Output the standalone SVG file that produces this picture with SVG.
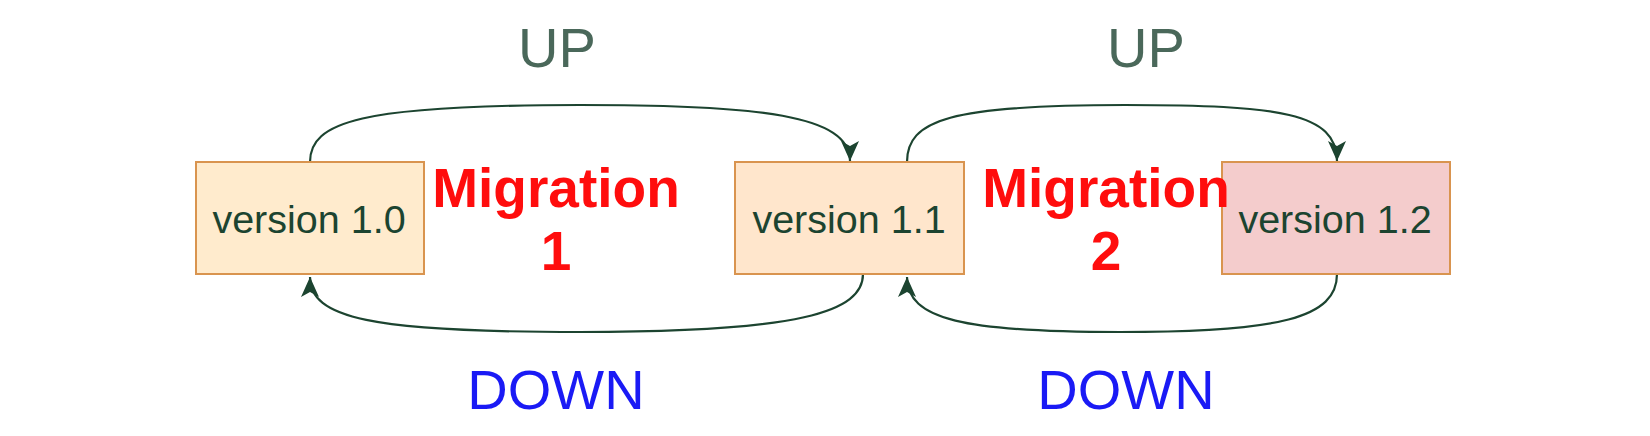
<svg xmlns="http://www.w3.org/2000/svg" width="1650" height="436" viewBox="0 0 1650 436">
<style>
.box{stroke:#d9944f;stroke-width:2}
.ver{font-family:"Liberation Sans",Arial,sans-serif;font-size:39.5px;fill:#1c4430;text-anchor:middle}
.mig{font-family:"Liberation Sans",Arial,sans-serif;font-size:55px;font-weight:bold;fill:#ff0d0d;text-anchor:middle}
.up{font-family:"Liberation Sans",Arial,sans-serif;font-size:56px;fill:#4a685a;text-anchor:middle}
.down{font-family:"Liberation Sans",Arial,sans-serif;font-size:56px;fill:#1a1af5;text-anchor:middle}
.conn{fill:none;stroke:#1c4430;stroke-width:2.2;marker-end:url(#arr)}
</style>
<defs>
<marker id="arr" markerUnits="userSpaceOnUse" markerWidth="22" markerHeight="20" viewBox="0 -10 22 20" refX="20" refY="0" orient="auto">
<path d="M0,-9 L20,0 L0,9 L5,0 Z" fill="#1c4430"/>
</marker>
</defs>
<rect width="1650" height="436" fill="#ffffff"/>
<g id="connectors">
<path class="conn" d="M310,162 C310,122 360,105 580,105 C760,105 850,115 850,161"/>
<path class="conn" d="M863,274 C863,312 800,332 580,332 C370,332 310,318 310,277"/>
<path class="conn" d="M907,162 C907,120 950,105 1125,105 C1280,105 1337,113 1337,161"/>
<path class="conn" d="M1337,274 C1337,318 1280,332 1120,332 C965,332 907,320 907,277"/>
</g>
<g id="v10">
<rect class="box" x="196" y="162" width="228" height="112" fill="#ffebcd"/>
<text class="ver" x="309" y="233">version 1.0</text>
</g>
<g id="v11">
<rect class="box" x="735" y="162" width="229" height="112" fill="#ffe6cc"/>
<text class="ver" x="849" y="233">version 1.1</text>
</g>
<g id="v12">
<rect class="box" x="1222" y="162" width="228" height="112" fill="#f4cccc"/>
<text class="ver" x="1335" y="233">version 1.2</text>
</g>
<g id="migration1">
<text class="mig" x="556" y="207">Migration</text>
<text class="mig" x="556" y="270">1</text>
</g>
<g id="migration2">
<text class="mig" x="1106" y="207">Migration</text>
<text class="mig" x="1106" y="270">2</text>
</g>
<g id="labels">
<text class="up" x="557" y="67">UP</text>
<text class="up" x="1146" y="67">UP</text>
<text class="down" x="556" y="409">DOWN</text>
<text class="down" x="1126" y="409">DOWN</text>
</g>
</svg>
